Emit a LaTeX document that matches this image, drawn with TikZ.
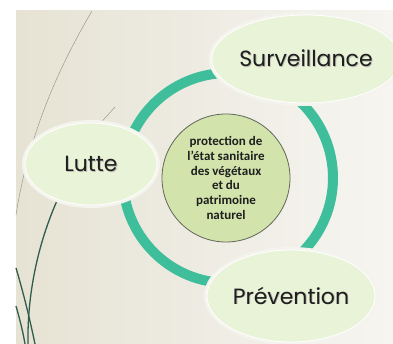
\documentclass[tikz,border=0pt]{standalone}
\usepackage{fontspec}
\setmainfont{Carlito}
\newfontfamily\labelfont{Poppins}
\usetikzlibrary{shapes.geometric}

\definecolor{bgL}{HTML}{E6E3D4}
\definecolor{bgR}{HTML}{F6F5F1}
\definecolor{ringcol}{HTML}{3FBE9B}
\definecolor{ellfill}{HTML}{E9F3D8}
\definecolor{halo}{HTML}{F4F3EE}
\definecolor{corefill}{HTML}{D2E4AC}
\definecolor{coreline}{HTML}{62665A}
\definecolor{wisp}{HTML}{2F5C4C}
\definecolor{wispgray}{HTML}{9A9A92}
\definecolor{ink}{HTML}{1E1E1E}
\definecolor{shade}{HTML}{BDBDB4}

% text with a soft drop shadow
\newcommand\dropshadowtext[1]{\makebox[0pt][l]{\kern0.9pt\raisebox{-0.9pt}{\textcolor{shade}{#1}}}#1}

\tikzset{
  stage/.style={ellipse, inner sep=0pt, fill=ellfill,
    preaction={draw=halo, line width=6pt},
    draw=white, line width=0.8pt,
    text=ink, font=\labelfont\fontsize{22}{26}\selectfont},
  core/.style={circle, inner sep=0pt, minimum size=128pt, fill=corefill,
    draw=coreline, line width=0.8pt, text=ink, align=center,
    font=\bfseries\fontsize{13}{14.8}\selectfont},
  wispline/.style={draw=wisp, line width=1.3pt},
  thinwisp/.style={draw=wispgray, line width=0.5pt}
}

\begin{document}
\begin{tikzpicture}[x=1pt, y=-1pt]
  \useasboundingbox (0,0) rectangle (393,344);
  \fill[white] (0,0) rectangle (393,344);
  % slide background
  \shade[left color=bgL, right color=bgR] (16,11) rectangle (393,344);

  % decorative wisps on the left
  \draw[thinwisp] (92,11) .. controls (66,55) and (30,125) .. (16,215);
  \draw[thinwisp] (115,107) -- (96,128);
  \draw[wispline] (62,190) .. controls (40,235) and (27,290) .. (28,344);
  \draw[wispline] (16,268) .. controls (24,295) and (30,320) .. (35,344);
  \draw[wispline] (16,306) .. controls (20,320) and (23,332) .. (25,344);

  % cycle ring
  \draw[ringcol, line width=10pt] (228,178) circle (105pt);

  % stages around the cycle
  \node[stage, minimum width=172pt, minimum height=88pt] (surv) at (306,59) {\dropshadowtext{Surveillance}};
  \node[stage, minimum width=132pt, minimum height=82pt] (lutte) at (91,164) {\dropshadowtext{Lutte}};
  \node[stage, minimum width=168pt, minimum height=92pt] (prev) at (291,296) {\dropshadowtext{Prévention}};

  % central goal
  \node[core] (goal) at (226,178) {protection de\\l'état sanitaire\\des végétaux\\et du\\patrimoine\\naturel};
\end{tikzpicture}
\end{document}
